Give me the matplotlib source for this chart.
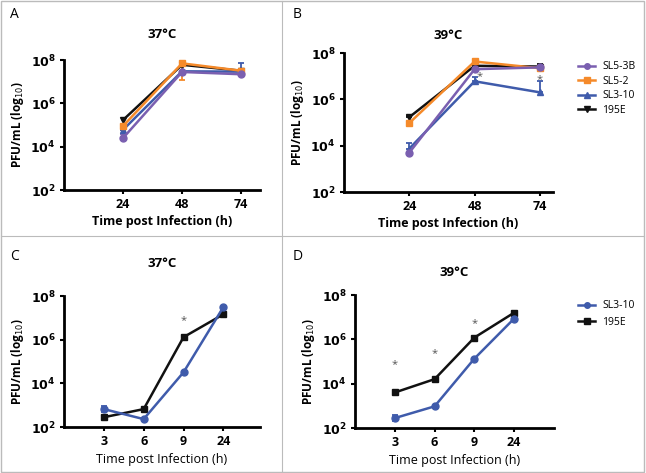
import matplotlib
matplotlib.use("Agg")
import matplotlib.pyplot as plt
from matplotlib.lines import Line2D
from matplotlib.patches import Rectangle

plt.rcParams['font.family'] = ['Open Sans', 'DejaVu Sans']

# top panels: 24/48/74 h
hours_long = ["24", "48", "74"]
sl53b_37 = [2.5e4, 2.8e7, 2.2e7]
sl52_37 = [9.0e4, 7.0e7, 3.2e7]
sl310_37 = [6.0e4, 3.0e7, 2.9e7]
e195_37 = [1.7e5, 6.0e7, 3.2e7]

sl53b_39 = [5.0e3, 2.0e7, 2.4e7]
sl52_39 = [9.5e4, 4.3e7, 2.2e7]
sl310_39 = [7.5e3, 6.0e6, 2.0e6]
e195_39 = [1.7e5, 2.8e7, 2.6e7]
sl310_39_err_up = [6.0e3, 3.0e6, 4.0e6]

# bottom panels: 3/6/9/24 h
hours_short = ["3", "6", "9", "24"]
sl310_c = [6.6e2, 2.3e2, 3.2e4, 3.1e7]
e195_c = [2.8e2, 6.6e2, 1.3e6, 1.45e7]
sl310_d = [2.8e2, 9.5e2, 1.35e5, 8.7e6]
e195_d = [4.0e3, 1.6e4, 1.2e6, 1.6e7]

PURPLE = "#7a5fb0"
ORANGE = "#f58a2a"
BLUE = "#3f5bab"
BLACK = "#111111"
STAR = "#555555"

fig = plt.figure(figsize=(6.46, 4.73), dpi=100)

# frame and dividers
fig.patches.append(Rectangle((0.002, 0.003), 0.995, 0.994, transform=fig.transFigure,
                             fill=False, edgecolor="#bbbbbb", lw=1))
fig.lines.append(Line2D([282 / 646, 282 / 646], [0.003, 0.997], transform=fig.transFigure,
                        color="#bbbbbb", lw=0.8))
fig.lines.append(Line2D([0.002, 0.997], [1 - 236 / 473, 1 - 236 / 473], transform=fig.transFigure,
                        color="#bbbbbb", lw=0.8))


def setup(ax, labels, xmax, title, title_pad, bold_xlabel):
    ax.set_yscale("log")
    ax.set_ylim(1e2, 1e8)
    ax.set_yticks([1e2, 1e4, 1e6, 1e8])
    ax.set_yticklabels([r"$\mathbf{10^{2}}$", r"$\mathbf{10^{4}}$", r"$\mathbf{10^{6}}$", r"$\mathbf{10^{8}}$"])
    ax.minorticks_off()
    ax.set_xlim(-1, xmax)
    ax.set_xticks(range(len(labels)))
    ax.set_xticklabels(labels, fontweight="bold")
    ax.tick_params(labelsize=9, width=1.5, length=3, pad=3)
    for s in ["top", "right"]:
        ax.spines[s].set_visible(False)
    for s in ["left", "bottom"]:
        ax.spines[s].set_linewidth(2)
    ax.set_title(title, fontsize=9.5, fontweight="bold", pad=title_pad)
    ax.set_xlabel("Time post Infection (h)", fontsize=9,
                  fontweight="bold" if bold_xlabel else "normal", labelpad=3)
    ax.set_ylabel("PFU/mL (log$_{10}$)", fontsize=8.5, fontweight="bold", labelpad=3)


def series(ax, y, color, marker, yerr=None):
    x = range(len(y))
    ax.errorbar(x, y, yerr=yerr, color=color, marker=marker, markersize=5, lw=1.8,
                capsize=2.5, elinewidth=1.3, capthick=1.3, clip_on=False)


def add_legend(names, colors, markers, top_px, spacing):
    handles = [Line2D([], [], color=c, marker=m, markersize=4, lw=1.8) for c, m in zip(colors, markers)]
    fig.legend(handles, names, loc="upper left", bbox_to_anchor=(574 / 646, 1 - top_px / 473),
               frameon=False, fontsize=7.5, handlelength=1.6, labelspacing=spacing,
               handletextpad=0.7, borderaxespad=0)


# A
axA = fig.add_axes([64 / 646, 1 - 190 / 473, 196 / 646, 130 / 473])
series(axA, e195_37, BLACK, "v")
series(axA, sl310_37, BLUE, "^", yerr=[[0, 0, 0], [0, 0, 4.1e7]])
series(axA, sl52_37, ORANGE, "s", yerr=[[2e4, 5.8e7, 0], [2e4, 0, 0]])
series(axA, sl53b_37, PURPLE, "o", yerr=[[0, 0, 0], [1.5e4, 0, 0]])
setup(axA, hours_long, 2.32, "37°C", 16, True)

# B
axB = fig.add_axes([344 / 646, 1 - 192 / 473, 209 / 646, 139 / 473])
series(axB, e195_39, BLACK, "v", yerr=[[0, 0, 8e6], [3e4, 0, 8e6]])
series(axB, sl52_39, ORANGE, "s")
series(axB, sl310_39, BLUE, "^", yerr=[[0, 0, 0], sl310_39_err_up])
series(axB, sl53b_39, PURPLE, "o")
setup(axB, hours_long, 2.2, "39°C", 10, True)
axB.text(1.08, 7.5e6, "*", color=STAR, fontsize=8, ha="center")
axB.text(2.0, 5.8e6, "*", color=STAR, fontsize=8, ha="center")
add_legend(["SL5-3B", "SL5-2", "SL3-10", "195E"], [PURPLE, ORANGE, BLUE, BLACK],
           ["o", "s", "^", "v"], 57, 0.35)

# C
axC = fig.add_axes([64 / 646, 1 - 427 / 473, 196 / 646, 131 / 473])
series(axC, e195_c, BLACK, "s")
series(axC, sl310_c, BLUE, "o", yerr=[[1.5e2, 0, 0, 0], [2.5e2, 0, 0, 0]])
setup(axC, hours_short, 3.92, "37°C", 21, False)
axC.text(2.0, 6e6, "*", color=STAR, fontsize=8, ha="center")

# D
axD = fig.add_axes([355 / 646, 1 - 428 / 473, 199 / 646, 133 / 473])
series(axD, e195_d, BLACK, "s")
series(axD, sl310_d, BLUE, "o", yerr=[[80, 0, 0, 0], [90, 0, 0, 0]])
setup(axD, hours_short, 4.0, "39°C", 14, False)
for xi, yi in zip([0, 1, 2], [5.5e4, 1.8e5, 4e6]):
    axD.text(xi, yi, "*", color=STAR, fontsize=8, ha="center")
add_legend(["SL3-10", "195E"], [BLUE, BLACK], ["o", "s"], 296, 0.55)

# panel letters
for x, y, s in [(10, 15, "A"), (293, 15, "B"), (10, 256, "C"), (293, 256, "D")]:
    fig.text(x / 646, 1 - y / 473, s, fontsize=10, va="center", ha="left")

fig.savefig("out.png", dpi=100)
